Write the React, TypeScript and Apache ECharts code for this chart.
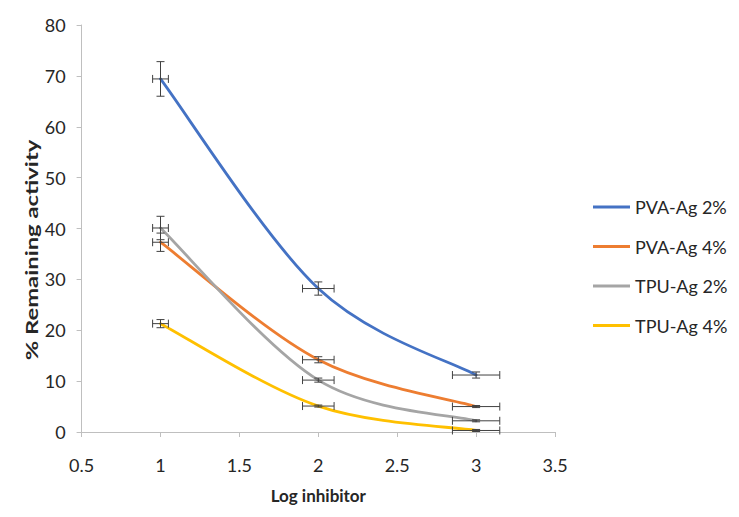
import React, { useEffect, useRef } from "react";
import * as echarts from "echarts";

const xValues = [1, 2, 3];
const xErrors = [0.05, 0.1, 0.15];
const seriesNames = ["PVA-Ag 2%", "PVA-Ag 4%", "TPU-Ag 2%", "TPU-Ag 4%"];
const pvaAg2 = [69.4, 28.2, 11.2];
const pvaAg4 = [37.3, 14.2, 5.0];
const tpuAg2 = [40.1, 10.2, 2.2];
const tpuAg4 = [21.3, 5.1, 0.3];
const pvaAg2Err = [3.4, 1.3, 0.6];
const pvaAg4Err = [1.8, 0.6, 0.2];
const tpuAg2Err = [2.3, 0.4, 0.2];
const tpuAg4Err = [0.8, 0.2, 0.2];
const colors = ["#4472C4", "#ED7D31", "#A5A5A5", "#FFC000"];
const yTicks = [0, 10, 20, 30, 40, 50, 60, 70, 80];

const allValues = [pvaAg2, pvaAg4, tpuAg2, tpuAg4];
const allErrors = [pvaAg2Err, pvaAg4Err, tpuAg2Err, tpuAg4Err];

const FONT = "Lato, 'Open Sans', sans-serif";
const TXT = "#262626";

export default function App() {
  const ref = useRef<HTMLDivElement>(null);
  useEffect(() => {
    if (!ref.current) return;
    const chart = echarts.init(ref.current, undefined, { renderer: "svg" });

    // Smoothed lines (Excel-like Catmull-Rom Bezier) drawn through the axis scales
    const lineSeries = seriesNames.map((name, i) => {
      const vals = allValues[i];
      const n = xValues.length;
      return {
        name,
        type: "custom",
        z: 2,
        silent: true,
        itemStyle: { color: colors[i] },
        data: xValues.map((x, j) => [x, vals[j]]),
        renderItem: (params: any, api: any) => {
          const j = params.dataIndex;
          if (j >= n - 1) return { type: "group", children: [] };
          const P = (k: number) => {
            const kk = Math.max(0, Math.min(n - 1, k));
            return api.coord([xValues[kk], vals[kk]]);
          };
          const p0 = P(j - 1);
          const p1 = P(j);
          const p2 = P(j + 1);
          const p3 = P(j + 2);
          const t = 1 / 6;
          return {
            type: "bezierCurve",
            shape: {
              x1: p1[0],
              y1: p1[1],
              x2: p2[0],
              y2: p2[1],
              cpx1: p1[0] + (p2[0] - p0[0]) * t,
              cpy1: p1[1] + (p2[1] - p0[1]) * t,
              cpx2: p2[0] - (p3[0] - p1[0]) * t,
              cpy2: p2[1] - (p3[1] - p1[1]) * t,
            },
            style: { stroke: colors[i], lineWidth: 2.8, fill: null, lineCap: "round" },
          };
        },
      };
    });

    const errSeries = seriesNames.map((name, i) => ({
      name: name + " err",
      type: "custom",
      z: 5,
      silent: true,
      data: xValues.map((x, j) => [x, allValues[i][j], xErrors[j], allErrors[i][j]]),
      renderItem: (params: any, api: any) => {
        const x = api.value(0);
        const y = api.value(1);
        const xe = api.value(2);
        const ye = api.value(3);
        const c = api.coord([x, y]);
        const l = api.coord([x - xe, y]);
        const r = api.coord([x + xe, y]);
        const tp = api.coord([x, y + ye]);
        const b = api.coord([x, y - ye]);
        const cap = 4;
        const st = { stroke: "#404040", lineWidth: 1 };
        const mk = (x1: number, y1: number, x2: number, y2: number) => ({
          type: "line",
          shape: { x1, y1, x2, y2 },
          style: st,
        });
        return {
          type: "group",
          children: [
            mk(l[0], c[1], r[0], c[1]),
            mk(l[0], c[1] - cap, l[0], c[1] + cap),
            mk(r[0], c[1] - cap, r[0], c[1] + cap),
            mk(c[0], tp[1], c[0], b[1]),
            mk(c[0] - cap, tp[1], c[0] + cap, tp[1]),
            mk(c[0] - cap, b[1], c[0] + cap, b[1]),
          ],
        };
      },
    }));

    chart.setOption({
      animation: false,
      backgroundColor: "#ffffff",
      grid: { left: 81.6, right: 184, top: 25, bottom: 85, containLabel: false },
      legend: {
        orient: "vertical",
        left: 588,
        top: 193,
        itemWidth: 37,
        itemHeight: 3,
        itemGap: 21.5,
        data: seriesNames.map((n, i) => ({ name: n, icon: "rect", itemStyle: { color: colors[i] } })),
        textStyle: { fontFamily: FONT, fontSize: 18, color: TXT },
      },
      xAxis: {
        type: "value",
        min: 0.5,
        max: 3.5,
        interval: 0.5,
        name: "Log inhibitor",
        nameLocation: "middle",
        nameGap: 55,
        nameTextStyle: { fontFamily: FONT, fontSize: 17, fontWeight: "bold", color: TXT },
        axisLine: { show: true, onZero: false, lineStyle: { color: "#BFBFBF", width: 1 } },
        axisTick: { show: true, length: 5, lineStyle: { color: "#BFBFBF" } },
        axisLabel: { fontFamily: FONT, fontSize: 18, color: TXT, margin: 24 },
        splitLine: { show: false },
      },
      yAxis: {
        type: "value",
        min: yTicks[0],
        max: yTicks[yTicks.length - 1],
        interval: 10,
        axisLine: { show: true, lineStyle: { color: "#BFBFBF", width: 1 } },
        axisTick: { show: true, length: 5, lineStyle: { color: "#BFBFBF" } },
        axisLabel: { fontFamily: FONT, fontSize: 18, color: TXT, margin: 16 },
        splitLine: { show: false },
      },
      graphic: [
        {
          type: "text",
          x: 31,
          y: 250,
          rotation: Math.PI / 2,
          scaleX: 1.4,
          style: {
            text: "% Remaining activity",
            fontFamily: FONT,
            fontSize: 17,
            fontWeight: "bold",
            fill: TXT,
            align: "center",
            verticalAlign: "middle",
          },
        },
      ],
      series: [...lineSeries, ...errSeries],
    });
    return () => chart.dispose();
  }, []);
  return <div ref={ref} style={{ width: 739, height: 517, position: "absolute", left: 0, top: 0 }} />;
}
